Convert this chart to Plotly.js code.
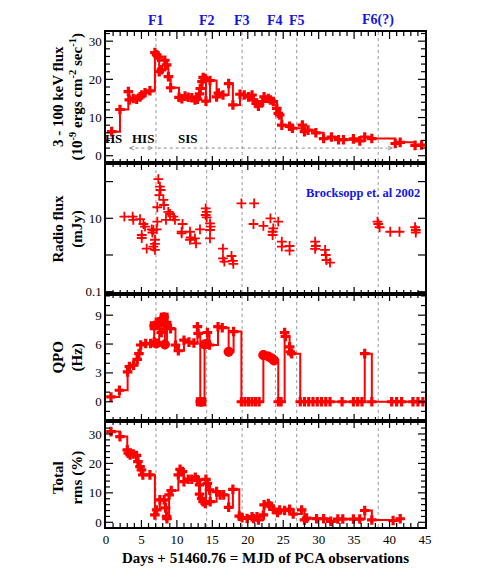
<!DOCTYPE html>
<html>
<head>
<meta charset="utf-8">
<script src="https://cdn.plot.ly/plotly-3.0.1.min.js"></script>
<style>html,body{margin:0;padding:0;background:#fff;}#chart{width:491px;height:572px;}</style>
</head>
<body>
<div id="chart"></div>
<script>
// ---- Data ----
const fluxDays = [0.8,1.97,3.15,3.29,3.85,4.33,4.8,5.04,5.5,6.2, 6.9,7.15,7.4,7.5,7.85,8.3,8.55,8.8,9.12,10.3, 10.7,11.15,11.6,12.1,12.55,12.9,13.2,13.3,13.55,13.7, 14.0,14.1,14.67,15.6,15.85,16.5,17.3,17.9,18.9,19.5, 20.1,20.6,20.8,21.2,21.5,22.1,22.3,22.9,23.2,23.6, 24.1,24.3,24.5,24.8,25.9,26.3,27.7,28.0,28.5,29.6, 30.7,31.8,32.8,33.5,34.9,35.8,36.5,37.5,40.8,41.5, 43.6,44.5];
const fluxVals = [6.3,12.1,16.8,14.6,15.0,14.8,15.4,15.9,16.5,17.0, 27.0,26.4,25.8,22.0,22.5,25.0,23.8,20.7,17.8,15.3, 14.9,15.6,15.3,15.2,14.6,14.8,16.2,17.6,19.4,20.5, 20.2,14.3,19.7,15.4,16.4,15.9,18.9,13.3,16.1,15.9, 15.4,15.9,14.6,13.7,13.0,14.2,15.4,15.0,14.6,14.2, 12.4,11.1,10.7,8.0,7.7,7.2,8.0,6.3,6.7,6.0, 4.5,4.9,4.2,4.2,4.4,3.9,4.9,4.5,3.2,3.5, 2.7,2.8];

const radioDays = [2.59,3.76,3.85,4.8,5.04,5.04,5.27,5.5,5.74,6.44, 6.54,6.68,6.91,6.91,6.68,6.91,7.15,7.24,7.24,7.38, 7.52,7.6,7.71,8.09,8.18,8.46,8.79,9.03,9.5,9.73, 10.67,10.67,10.8,11.85,11.85,11.94,12.55,12.7,13.26,14.06, 14.06,14.2,14.2,14.67,14.67,14.67,14.76,16.5,16.5,16.7, 17.7,17.9,17.96,19.1,20.8,20.9,22.2,23.2,23.5,23.5, 23.6,24.3,24.8,24.8,25.9,25.9,29.5,29.5,29.6,30.9, 31.0,31.1,31.6,38.3,38.4,38.6,40.1,41.4,43.6,43.7, 43.7];
const radioVals = [11.1,11.1,9.0,9.5,3.5,2.9,7.0,5.9,1.5,5.0, 4.1,1.7,2.6,2.0,4.8,1.37,5.0,8.1,20,116, 43,73,59,31.6,23,9.0,15,13.1,11.1,9.0, 4.3,3.9,7.0,4.3,2.6,3.0,2.85,2.08,5.0,18.7, 12.3,15,10.6,7.3,4.8,2.85,5.9,1.5,0.81,0.66, 0.94,0.69,0.57,25.6,7.0,25.6,6.2,10,4.3,3.5, 5.3,8.1,2.3,1.7,1.76,1.31,2.3,1.46,1.76,1.37, 1.0,0.73,0.62,8.1,7.0,5.7,4.3,4.3,5.7,4.8, 4.1];

const qpoDays = [0.7,1.9,3.05,3.3,3.9,4.4,4.65,4.9,5.6,6.3, 6.8,6.8,7.1,7.5,7.8,8.2,8.3,8.6,9.1,9.8, 10.2,11.0,11.7,12.4,12.9,13.0,13.3,13.5,13.9,14.2, 14.3,14.6,15.8,16.4,17.3,18.0,19.1,19.6,20.1,20.6, 21.1,21.6,22.2,22.9,23.4,23.7,24.3,24.7,25.2,25.3, 25.9,26.0,26.2,27.4,28.0,28.6,29.2,29.8,30.4,31.0, 31.6,33.3,34.9,35.5,36.1,36.5,37.5,40.3,41.0,41.7, 43.3,44.0,44.7];
const qpoVals = [0.5,1.2,3.1,3.65,3.8,4.4,5.0,5.9,6.05,6.05, 7.9,6.2,6.05,8.3,7.2,8.8,5.95,7.95,7.6,5.9, 5.3,6.4,6.2,6.1,7.8,7.1,0,0,5.95,6.0, 7.2,5.9,7.8,7.7,5.2,7.3,0,0,0,0, 0,0,4.85,4.7,4.5,4.3,0,0,7.2,6.8, 5.7,5.2,5.0,0,0,0,0,0,0,0, 0,0,0,0,0,5.0,0,0,0,0, 0,0,0];
const qpoSquareDays = [6.8,7.5,8.2,8.6,13.3,13.5];
const qpoSquareVals = [7.9,8.3,8.8,7.95,0,0];
const qpoCircleDays = [7.1,8.3,13.9,14.2,17.3,22.2,22.9,23.4,23.7];
const qpoCircleVals = [6.05,5.95,5.95,6.0,5.2,4.85,4.7,4.5,4.3];

const rmsDays = [0.7,1.97,3.0,3.15,3.4,3.85,4.3,4.5,4.8,5.0, 5.2,6.2,6.9,7.15,7.6,8.2,8.4,8.55,8.6,8.9, 9.2,10.2,10.45,10.8,11.0,11.6,12.1,12.6,12.9,13.2, 13.2,13.5,13.7,14.0,14.1,14.3,14.6,14.7,15.6,16.1, 16.6,17.3,17.9,18.8,19.2,19.9,20.6,20.8,21.3,21.5, 22.2,22.3,22.9,23.1,23.6,24.2,24.5,25.2,25.9,26.4, 27.6,28.0,28.3,29.7,30.7,31.7,32.7,33.4,34.9,35.8, 36.5,37.5,40.5,41.5];
const rmsVals = [30.8,29.1,24.6,23.5,22.9,23.2,22.7,20.6,18.9,17.8, 16.1,16.1,2.5,4.2,7.6,7.6,4.9,2.0,1.2,9.3, 10.8,16.1,18.0,17.2,13.8,14.6,14.6,15.3,14.4,12.7, 9.6,8.1,7.0,6.4,14.6,13.2,11.0,7.0,10.4,9.3, 9.3,5.1,11.2,2.1,1.6,1.3,1.9,1.3,1.9,0.8, 2.5,5.9,6.4,5.6,4.4,3.3,4.2,4.0,4.4,2.8, 4.2,0.8,1.4,1.2,1.2,0.3,1.1,1.1,1.1,1.1, 4.0,0.8,0.6,1.2];

const flareDays = [7.05,14.2,19.2,23.9,26.9,38.4];
const flareLabels = ['F1','F2','F3','F4','F5','F6(?)'];

// tick positions (major + minor) for each axis
const xTickPositions = [1,2,3,4,5,6,7,8,9,10,11,12,13,14,15,16,17,18,19,20,21,22,23,24,25,26,27,28,29,30,31,32,33,34,35,36,37,38,39,40,41,42,43,44];
const fluxTickPositions = [0,2,4,6,8,10,12,14,16,18,20,22,24,26,28,30,32];
const qpoTickPositions = [-1,0,1,2,3,4,5,6,7,8,9,10,11];
const rmsTickPositions = [0,2,4,6,8,10,12,14,16,18,20,22,24,26,28,30,32,34];
const radioTickVals = [0.1, 1, 10, 100];
const radioTickText = ['0.1', ' ', '10', ' '];

// ---- Styling ----
const RED = '#ff0000';
const BLUE = '#1414e6';
const SERIF = 'Liberation Serif, Times New Roman, serif';
const tickFont = {family: SERIF, size: 13, color: '#000'};
const MAJOR_LEN = 7, MINOR_LEN = 4;

function baseAxis(extra) {
  return Object.assign({
    ticks: '', showline: true, linecolor: '#000', linewidth: 1.5, mirror: true,
    showgrid: false, zeroline: false, tickfont: tickFont
  }, extra);
}
function xAxis(anchor, showLabels) {
  return baseAxis({anchor: anchor, domain: [0, 1], range: [0, 45], tick0: 0, dtick: 5, showticklabels: showLabels});
}
function yAxis(anchor, domain, range, dtick) {
  return baseAxis({anchor: anchor, domain: domain, range: range, tick0: 0, dtick: dtick});
}

const traces = [
  {x: fluxDays, y: fluxVals, xaxis: 'x', yaxis: 'y', mode: 'lines+markers',
   line: {shape: 'hv', color: RED, width: 2}, marker: {symbol: 'cross', size: 8, color: RED}},
  {x: radioDays, y: radioVals, xaxis: 'x2', yaxis: 'y2', mode: 'markers',
   marker: {symbol: 'cross-thin', size: 7, color: RED, line: {color: RED, width: 1.8}}},
  {x: qpoDays, y: qpoVals, xaxis: 'x3', yaxis: 'y3', mode: 'lines+markers',
   line: {shape: 'hv', color: RED, width: 2}, marker: {symbol: 'cross', size: 8, color: RED}},
  {x: qpoSquareDays, y: qpoSquareVals, xaxis: 'x3', yaxis: 'y3', mode: 'markers',
   marker: {symbol: 'square', size: 9, color: RED}},
  {x: qpoCircleDays, y: qpoCircleVals, xaxis: 'x3', yaxis: 'y3', mode: 'markers',
   marker: {symbol: 'circle', size: 10, color: RED}},
  {x: rmsDays, y: rmsVals, xaxis: 'x4', yaxis: 'y4', mode: 'lines+markers',
   line: {shape: 'hv', color: RED, width: 2}, marker: {symbol: 'cross', size: 8, color: RED}}
];

const shapes = flareDays.map(d => ({
  type: 'line', xref: 'x', yref: 'paper', x0: d, x1: d, y0: 0, y1: 1,
  line: {color: '#999', width: 1, dash: 'dot'}, layer: 'below'
}));
shapes.push({type: 'line', xref: 'x', yref: 'y', x0: 3.3, x1: 6.6, y0: 2.0, y1: 2.0,
  line: {color: '#888', width: 1, dash: 'dot'}});
shapes.push({type: 'line', xref: 'x', yref: 'y', x0: 7.3, x1: 39.2, y0: 2.0, y1: 2.0,
  line: {color: '#888', width: 1, dash: 'dot'}});

// ---- inside tick marks on all four sides of each panel (pixel-length lines on the axes' scales) ----
function tickLine(o) {
  return Object.assign({type: 'line', layer: 'above', line: {color: '#000', width: 1.2}}, o);
}
['y', 'y2', 'y3', 'y4'].forEach((yr, i) => {
  const xr = i === 0 ? 'x' : 'x' + (i + 1);
  xTickPositions.forEach(v => {
    const len = v % 5 === 0 ? MAJOR_LEN : MINOR_LEN;
    shapes.push(tickLine({xref: xr, yref: yr + ' domain', ysizemode: 'pixel', yanchor: 0, x0: v, x1: v, y0: 0, y1: len}));
    shapes.push(tickLine({xref: xr, yref: yr + ' domain', ysizemode: 'pixel', yanchor: 1, x0: v, x1: v, y0: 0, y1: -len}));
  });
});
function yTicks(xr, yr, positions, majorStep) {
  positions.forEach(v => {
    const len = v % majorStep === 0 ? MAJOR_LEN : MINOR_LEN;
    shapes.push(tickLine({xref: xr + ' domain', yref: yr, xsizemode: 'pixel', xanchor: 0, x0: 0, x1: len, y0: v, y1: v}));
    shapes.push(tickLine({xref: xr + ' domain', yref: yr, xsizemode: 'pixel', xanchor: 1, x0: 0, x1: -len, y0: v, y1: v}));
  });
}
yTicks('x', 'y', fluxTickPositions, 10);
yTicks('x3', 'y3', qpoTickPositions, 3);
yTicks('x4', 'y4', rmsTickPositions, 10);
const radioRange = [-1.063, 2.507];
radioTickVals.forEach(v => {
  const f = (Math.log10(v) - radioRange[0]) / (radioRange[1] - radioRange[0]);
  shapes.push(tickLine({xref: 'x2 domain', yref: 'y2 domain', xsizemode: 'pixel', xanchor: 0, x0: 0, x1: MAJOR_LEN, y0: f, y1: f}));
  shapes.push(tickLine({xref: 'x2 domain', yref: 'y2 domain', xsizemode: 'pixel', xanchor: 1, x0: 0, x1: -MAJOR_LEN, y0: f, y1: f}));
});

const annotations = [];
flareDays.forEach((d, i) => annotations.push({
  xref: 'x', yref: 'paper', x: d, y: 1.024, yanchor: 'middle', showarrow: false,
  text: '<b>' + flareLabels[i] + '</b>', font: {family: SERIF, size: 14, color: BLUE}
}));
const stateFont = {family: SERIF, size: 13, color: '#000'};
annotations.push({xref: 'x', yref: 'y', x: 1.1, y: 4.4, showarrow: false, text: '<b>HS</b>', font: stateFont});
annotations.push({xref: 'x', yref: 'y', x: 5.15, y: 4.4, showarrow: false, text: '<b>HIS</b>', font: stateFont});
annotations.push({xref: 'x', yref: 'y', x: 11.5, y: 4.4, showarrow: false, text: '<b>SIS</b>', font: stateFont});
[[3.25, 3.9], [6.65, 6.0], [40.5, 39.0]].forEach(p => annotations.push({
  xref: 'x', yref: 'y', axref: 'x', ayref: 'y', x: p[0], y: 2.0, ax: p[1], ay: 2.0,
  text: ' ', showarrow: true, arrowhead: 5, arrowsize: 1, arrowwidth: 0.8, arrowcolor: '#888'
}));
annotations.push({xref: 'paper', yref: 'paper', x: 0.992, y: 0.675, xanchor: 'right', yanchor: 'middle',
  showarrow: false, text: '<b>Brocksopp et. al 2002</b>', font: {family: SERIF, size: 12.5, color: BLUE}});

const titleFont = {family: SERIF, size: 15, color: '#000'};
[
  ['<b>3 - 100 keV flux</b><br><b>(10<sup>-9</sup> ergs cm<sup>-2</sup> sec<sup>-1</sup>)</b>', 0.8677],
  ['<b>Radio flux</b><br><b>(mJy)</b>', 0.603],
  ['<b>QPO</b><br><b>(Hz)</b>', 0.3424],
  ['<b>Total</b><br><b>rms (%)</b>', 0.100]
].forEach(t => annotations.push({
  xref: 'paper', yref: 'paper', x: -0.119, y: t[1], xanchor: 'center', yanchor: 'middle',
  textangle: -90, showarrow: false, text: t[0], font: titleFont
}));

const d4 = [0, 0.2141], d3 = [0.2141, 0.4707], d2 = [0.4707, 0.7354], d1 = [0.7354, 1];

const layout = {
  width: 491, height: 572,
  margin: {l: 106, r: 66, t: 32, b: 45},
  paper_bgcolor: '#ffffff', plot_bgcolor: '#ffffff',
  showlegend: false,
  font: {family: SERIF, size: 13, color: '#000'},
  xaxis: xAxis('y', false),
  xaxis2: xAxis('y2', false),
  xaxis3: xAxis('y3', false),
  xaxis4: Object.assign(xAxis('y4', true), {
    title: {text: '<b>Days + 51460.76 = MJD of PCA observations</b>', font: {family: SERIF, size: 15, color: '#000'}, standoff: 6}}),
  yaxis: yAxis('x', d1, [-1.9, 32.4], 10),
  yaxis2: baseAxis({anchor: 'x2', domain: d2, type: 'log', range: radioRange,
    tickmode: 'array', tickvals: radioTickVals, ticktext: radioTickText}),
  yaxis3: yAxis('x3', d3, [-2.0, 11.2], 3),
  yaxis4: yAxis('x4', d4, [-1.6, 34.4], 10),
  shapes: shapes,
  annotations: annotations
};

Plotly.newPlot('chart', traces, layout, {displayModeBar: false});
</script>
</body>
</html>
